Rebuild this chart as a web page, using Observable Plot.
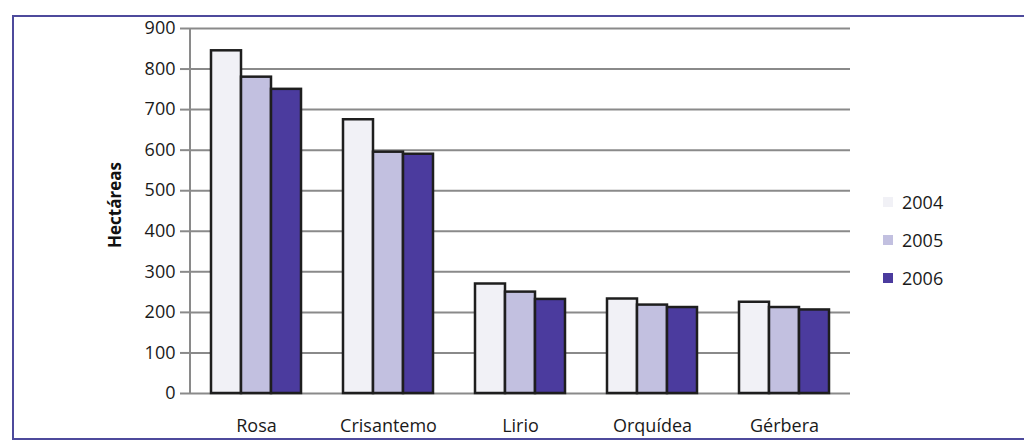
<!DOCTYPE html>
<html>
<head>
<meta charset="utf-8">
<script src="https://cdn.jsdelivr.net/npm/d3@7"></script>
<script src="https://cdn.jsdelivr.net/npm/@observablehq/plot@0.6"></script>
<style>
  html, body { margin: 0; padding: 0; background: #fff; overflow: hidden; }
  #wrap { position: relative; width: 1024px; height: 448px; font-family: "Open Sans", sans-serif; }
  #frame { position: absolute; left: 12px; top: 15px; width: 1100px; height: 425px; border: 2px solid #4d4a9c; box-sizing: border-box; }
  #chart { position: absolute; left: 0; top: 0; }
  #ylabel { position: absolute; left: 114px; top: 205px; transform: translate(-50%, -50%) rotate(-90deg); font-weight: bold; font-size: 17px; color: #111; white-space: nowrap; }
  #legend { position: absolute; left: 883px; top: 183px; font-size: 18px; color: #1a1a1a; }
  .item { display: flex; align-items: center; height: 38px; }
  .sw { width: 10px; height: 10px; margin-right: 9px; }
</style>
</head>
<body>
<div id="wrap">
  <div id="frame"></div>
  <div id="chart"></div>
  <div id="ylabel">Hectáreas</div>
  <div id="legend"></div>
</div>
<script>
const categories = ["Rosa", "Crisantemo", "Lirio", "Orquídea", "Gérbera"];
const years = ["2004", "2005", "2006"];
const v2004 = [845, 675, 270, 233, 225];
const v2005 = [780, 595, 250, 218, 212];
const v2006 = [750, 590, 232, 212, 206];
const yTicks = [0, 100, 200, 300, 400, 500, 600, 700, 800, 900];
const colors = ["#f1f1f6", "#c2c0e0", "#4b3b9e"];

const series = [v2004, v2005, v2006];
const rows = [];
categories.forEach((c, i) => years.forEach((y, j) => rows.push({cat: c, year: y, value: series[j][i]})));

const chart = Plot.plot({
  width: 1024,
  height: 448,
  marginLeft: 190,
  marginRight: 174,
  marginTop: 28,
  marginBottom: 55,
  style: {fontFamily: "'Open Sans', sans-serif", fontSize: "18px", color: "#1a1a1a", background: "transparent"},
  facet: {data: rows, x: "cat"},
  fx: {domain: categories, padding: 0, axis: "bottom", tickSize: 0, tickPadding: 26, label: null},
  x: {domain: years, axis: null, paddingInner: 0, paddingOuter: 0.69},
  y: {domain: [0, 900], ticks: yTicks, tickSize: 10, tickPadding: 5, label: null, axis: "left"},
  color: {domain: years, range: colors},
  marks: [
    Plot.ruleY(yTicks, {stroke: "#8a8a8a", strokeWidth: 2}),
    Plot.barY(rows, {x: "year", y: "value", fill: "year", stroke: "#1e1e1e", strokeWidth: 2.5})
  ]
});
document.getElementById("chart").appendChild(chart);

// y-axis domain line & tick colour
const svg = d3.select(chart);
const ys = chart.scale("y");
const fxs = chart.scale("fx");
svg.selectAll("[aria-label='y-axis'] line, [aria-label='y-axis tick'] path, g[aria-label='y-axis'] path").attr("stroke", "#8a8a8a").attr("stroke-width", 2);
svg.append("line")
  .attr("x1", fxs.apply(categories[0])).attr("x2", fxs.apply(categories[0]))
  .attr("y1", ys.apply(yTicks[0])).attr("y2", ys.apply(yTicks[yTicks.length - 1]))
  .attr("stroke", "#8a8a8a").attr("stroke-width", 2);

const legend = document.getElementById("legend");
years.forEach((y, j) => {
  const item = document.createElement("div");
  item.className = "item";
  item.innerHTML = `<span class="sw" style="background:${colors[j]}"></span><span>${y}</span>`;
  legend.appendChild(item);
});
</script>
</body>
</html>
